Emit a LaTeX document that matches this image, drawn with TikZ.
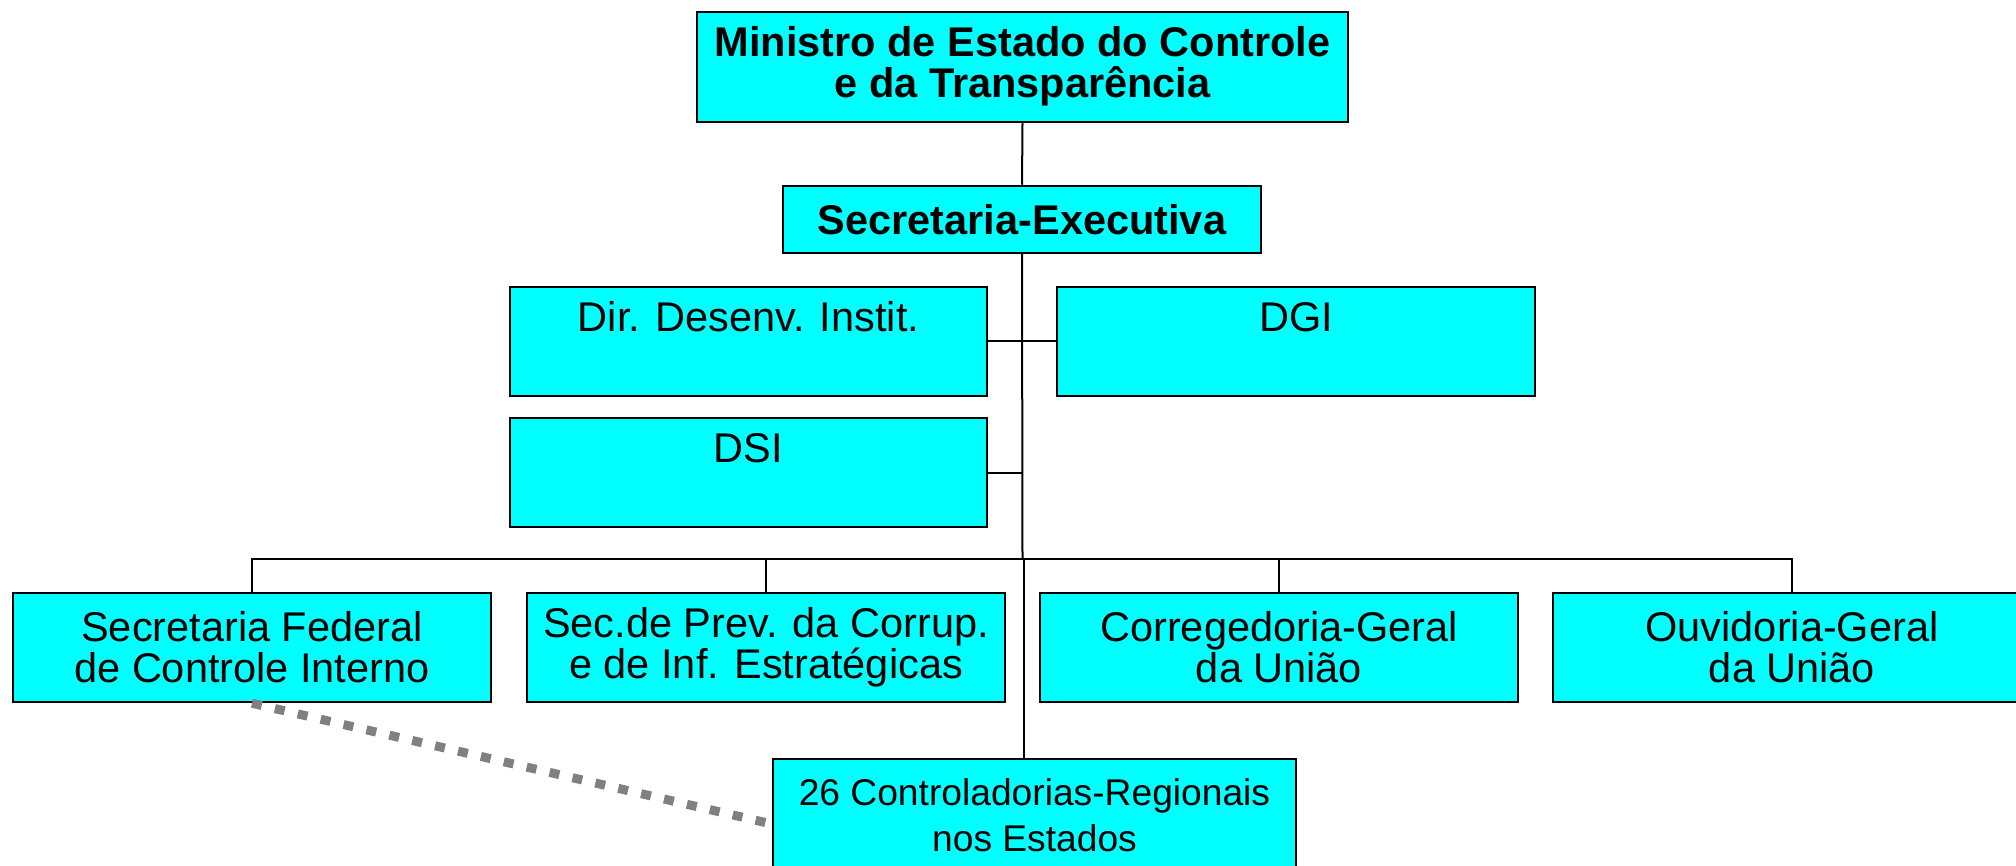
\documentclass[tikz,border=0pt]{standalone}
\usepackage{fontspec}
\setmainfont{Liberation Sans}
\definecolor{boxcyan}{HTML}{00FFFF}
\definecolor{dashgray}{HTML}{808080}
\begin{document}
\begin{tikzpicture}[x=1pt,y=-1pt,
  box/.style={draw=black, line width=2.5pt, fill=boxcyan, rectangle, inner sep=0pt, minimum width=478pt, minimum height=109pt},
  big/.style={font=\fontsize{41.5}{41}\selectfont, align=center, inner sep=0pt},
  bigb/.style={font=\fontsize{41.5}{41}\selectfont\bfseries, align=center, inner sep=0pt},
  small/.style={font=\fontsize{37.2}{46}\selectfont, align=center, inner sep=0pt},
  conn/.style={draw=black, line width=2pt},
  dots/.style={draw=dashgray, line width=9pt, dash pattern=on 10pt off 13.5pt}
]
\useasboundingbox (0,0) rectangle (2016,866);
% boxes
\node[box, minimum width=651pt, minimum height=110pt] (top) at (1022.5,67) {};
\node[bigb] (topt) at (1022.5,66.5) {Ministro de Estado do Controle\\e da Transparência};
\node[box, minimum height=67pt] (sec) at (1022,219.5) {};
\node[bigb] (sect) at (1022,219.5) {Secretaria-Executiva};
\node[box, minimum width=477pt] (dir) at (748.5,341.5) {};
\node[big] (dirt) at (748.5,317) {Dir. Desenv. Instit.};
\node[box] (dgi) at (1296,341.5) {};
\node[big] (dgit) at (1296,317) {DGI};
\node[box, minimum width=477pt] (dsi) at (748.5,472.5) {};
\node[big] (dsit) at (748.5,448) {DSI};
\node[box] (sfci) at (252,647.5) {};
\node[big] (sfcit) at (252,647.5) {Secretaria Federal\\de Controle Interno};
\node[box] (prev) at (766,647.5) {};
\node[big] (prevt) at (766,647.5) {Sec.de Prev. da Corrup.\\e de Inf. Estratégicas};
\node[box] (corr) at (1279,647.5) {};
\node[big] (corrt) at (1279,647.5) {Corregedoria-Geral\\da União};
\node[box] (ouv) at (1792,647.5) {};
\node[big] (ouvt) at (1792,647.5) {Ouvidoria-Geral\\da União};
\node[box, minimum width=523pt, minimum height=130pt] (crs) at (1034.5,824) {};
\node[small] (crst) at (1034.5,815) {26 Controladorias-Regionais\\nos Estados};
% connectors
\coordinate (bus) at (1022.5,559);
\coordinate (bus2) at (1023.5,559);
\draw[conn] (top.south) -- (sec.north);
\draw[conn] (sec.south) -- (bus);
\draw[conn] (dir.east) -- (dgi.west);
\draw[conn] (dsi.east) -- (dsi.east -| bus);
\draw[conn] (sfci.north) |- (bus) -| (ouv.north);
\draw[conn] (prev.north) -- (prev.north |- bus);
\draw[conn] (corr.north) -- (corr.north |- bus);
\draw[conn] (bus2) -- (bus2 |- crs.north);
\draw[dots] (sfci.south) -- (crs.west);
\end{tikzpicture}
\end{document}
